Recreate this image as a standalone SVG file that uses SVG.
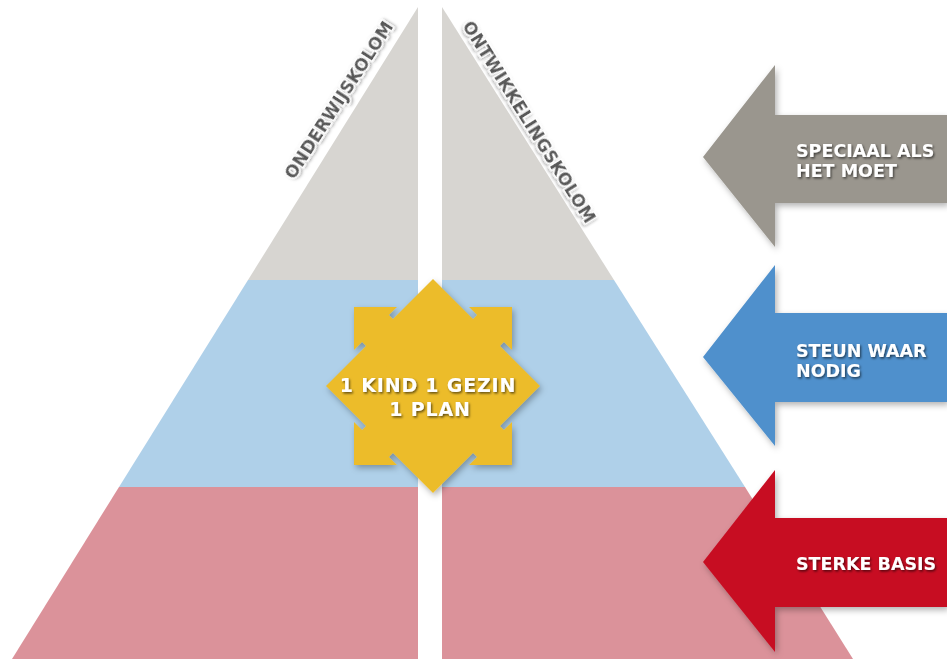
<svg xmlns="http://www.w3.org/2000/svg" xmlns:xlink="http://www.w3.org/1999/xlink" width="947" height="660" viewBox="0 0 947 660">
  <defs>
    <style>
      .gray { fill: #d7d5d1; }
      .blue { fill: #afd0e9; }
      .pink { fill: #db929a; }
      .star { fill: #ecbc2c; }
      .lbl { font-family: "DejaVu Sans", Verdana, sans-serif; font-weight: bold; font-size: 17px; letter-spacing: 0.3px; fill: #595959; stroke: #ffffff; stroke-width: 3px; stroke-linejoin: round; paint-order: stroke; }
      .wt { font-family: "DejaVu Sans", Verdana, sans-serif; font-weight: bold; fill: #ffffff; }
      .arrtxt { font-size: 17.5px; }
      .startxt { font-size: 19px; letter-spacing: 0.8px; }
    </style>
    <filter id="shadow" x="-20%" y="-20%" width="140%" height="140%">
      <feDropShadow dx="2" dy="3" stdDeviation="3" flood-color="#000000" flood-opacity="0.3"/>
    </filter>
    <filter id="tshadow" x="-10%" y="-30%" width="120%" height="160%">
      <feDropShadow dx="1.2" dy="1.5" stdDeviation="1.2" flood-color="#000000" flood-opacity="0.6"/>
    </filter>
    <filter id="lshadow" x="-10%" y="-40%" width="120%" height="180%">
      <feDropShadow dx="1" dy="1.5" stdDeviation="1.5" flood-color="#000000" flood-opacity="0.35"/>
    </filter>
    <polygon id="diagArrow" points="-79,-79 -36,-79 -44.1,-70.9 -19.1,-45.9 -45.9,-19.1 -70.9,-44.1 -79,-36"/>
  </defs>

  <rect x="0" y="0" width="947" height="660" fill="#ffffff"/>

  <g id="pyramid">
    <g id="band-top">
      <polygon class="gray" points="418,7 418,280 248,280"/>
      <polygon class="gray" points="442,7 614,280 442,280"/>
    </g>
    <g id="band-middle">
      <polygon class="blue" points="248,280 418,280 418,487 119,487"/>
      <polygon class="blue" points="442,280 614,280 745,487 442,487"/>
    </g>
    <g id="band-bottom">
      <polygon class="pink" points="119,487 418,487 418,659 12,659"/>
      <polygon class="pink" points="442,487 745,487 853,659 442,659"/>
    </g>
  </g>

  <g id="label-onderwijskolom">
    <text class="lbl" filter="url(#lshadow)" transform="translate(339,100) rotate(-57)" x="0" y="6" text-anchor="middle">ONDERWIJSKOLOM</text>
  </g>
  <g id="label-ontwikkelingskolom">
    <text class="lbl" filter="url(#lshadow)" transform="translate(529,122) rotate(58)" x="0" y="6" text-anchor="middle">ONTWIKKELINGSKOLOM</text>
  </g>

  <g id="node-plan">
    <g class="star" filter="url(#shadow)" transform="translate(433,386)">
      <polygon points="0,-107 107,0 0,107 -107,0"/>
      <use xlink:href="#diagArrow"/>
      <use xlink:href="#diagArrow" transform="rotate(90)"/>
      <use xlink:href="#diagArrow" transform="rotate(180)"/>
      <use xlink:href="#diagArrow" transform="rotate(270)"/>
    </g>
    <text class="wt startxt" filter="url(#tshadow)" x="428" y="392" text-anchor="middle">1 KIND 1 GEZIN</text>
    <text class="wt startxt" filter="url(#tshadow)" x="430" y="416" text-anchor="middle">1 PLAN</text>
  </g>

  <g id="node-speciaal">
    <polygon fill="#9a968e" filter="url(#shadow)" points="703,157 775,65 775,115 947,115 947,203 775,203 775,247"/>
    <text class="wt arrtxt" filter="url(#tshadow)" x="796" y="157">SPECIAAL ALS</text>
    <text class="wt arrtxt" filter="url(#tshadow)" x="796" y="177">HET MOET</text>
  </g>

  <g id="node-steun">
    <polygon fill="#5090cc" filter="url(#shadow)" points="703,357 775,265 775,313 947,313 947,402 775,402 775,446"/>
    <text class="wt arrtxt" filter="url(#tshadow)" x="796" y="357">STEUN WAAR</text>
    <text class="wt arrtxt" filter="url(#tshadow)" x="796" y="377">NODIG</text>
  </g>

  <g id="node-sterke">
    <polygon fill="#c70c24" filter="url(#shadow)" points="703,562 775,470 775,518 947,518 947,607 775,607 775,652"/>
    <text class="wt arrtxt" filter="url(#tshadow)" x="796" y="570">STERKE BASIS</text>
  </g>

  <g id="connectors"></g>
</svg>
